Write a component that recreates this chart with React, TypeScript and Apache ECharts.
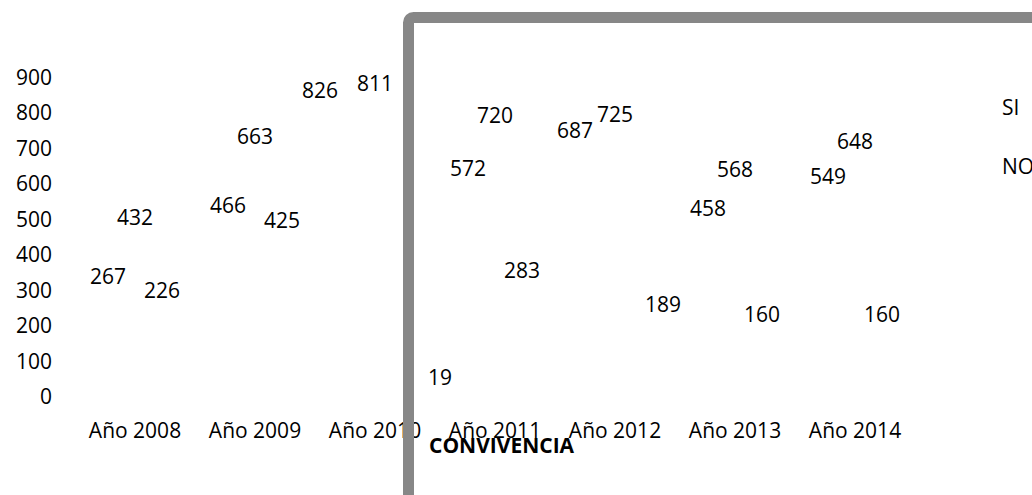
import React, { useEffect, useRef } from "react";
import * as echarts from "echarts";

const categories = ["Año 2008", "Año 2009", "Año 2010", "Año 2011", "Año 2012", "Año 2013", "Año 2014"];
const seriesA = [267, 466, 826, 572, 687, 458, 549];
const seriesB = [432, 663, 811, 720, 725, 568, 648];
const seriesC = [226, 425, 19, 283, 189, 160, 160];
const seriesNames = ["SI", " ", "NO"];
const yTicks = { min: 0, max: 900, interval: 100 };
const title = "CONVIVENCIA";

// label nudges (overlap avoidance as in original), separate from values
const labelNudges = [
  { s: 0, i: 2, dx: -28, dy: 12 },
  { s: 0, i: 4, dx: -13, dy: 3 },
  { s: 2, i: 2, dx: 38, dy: 13 },
  { s: 2, i: 4, dx: 21, dy: 0 },
];

const FONT = "'Open Sans', sans-serif";

export default function App() {
  const ref = useRef<HTMLDivElement>(null);
  useEffect(() => {
    if (!ref.current) return;
    const chart = echarts.init(ref.current, null, { renderer: "svg" });
    const all = [seriesA, seriesB, seriesC];
    const series = all.map((vals, s) => ({
      type: "bar",
      name: seriesNames[s],
      barWidth: 27,
      barGap: "0%",
      silent: true,
      itemStyle: { color: "rgba(0,0,0,0)" },
      label: {
        show: true,
        position: "top",
        distance: 15,
        color: "#000",
        fontFamily: FONT,
        fontSize: 21,
      },
      data: vals.map((v, i) => {
        const n = labelNudges.find((x) => x.s === s && x.i === i);
        return n ? { value: v, label: { offset: [n.dx, n.dy] } } : v;
      }),
    }));
    chart.setOption({
      animation: false,
      textStyle: { fontFamily: FONT },
      grid: { left: 75, right: 117, top: 77, bottom: 99, containLabel: false },
      legend: {
        data: ["SI", "NO"],
        orient: "vertical",
        left: 992,
        top: 91,
        icon: "none",
        itemWidth: 0,
        itemHeight: 14,
        itemGap: 38,
        selectedMode: false,
        textStyle: { color: "#000", fontSize: 21, fontFamily: FONT },
      },
      xAxis: {
        type: "category",
        data: categories,
        axisLine: { show: false },
        axisTick: { show: false },
        axisLabel: { color: "#000", fontSize: 21, fontFamily: FONT, margin: 23 },
      },
      yAxis: {
        type: "value",
        min: yTicks.min,
        max: yTicks.max,
        interval: yTicks.interval,
        splitLine: { show: false },
        axisLine: { show: false },
        axisTick: { show: false },
        axisLabel: { color: "#000", fontSize: 21, fontFamily: FONT, margin: 23 },
      },
      series,
      graphic: [
        {
          type: "rect",
          z: 100,
          silent: true,
          shape: { x: 408.5, y: 17.5, width: 900, height: 700, r: 5 },
          style: { fill: "none", stroke: "#878787", lineWidth: 11 },
        },
        {
          type: "text",
          z: 101,
          left: 429,
          top: 434,
          silent: true,
          style: {
            text: title,
            fill: "#000",
            font: `bold 21px ${FONT}`,
          },
        },
      ],
    });
    return () => chart.dispose();
  }, []);
  return (
    <div
      ref={ref}
      style={{ position: "fixed", left: 0, top: 0, width: 1032, height: 495, background: "#fff" }}
    />
  );
}
